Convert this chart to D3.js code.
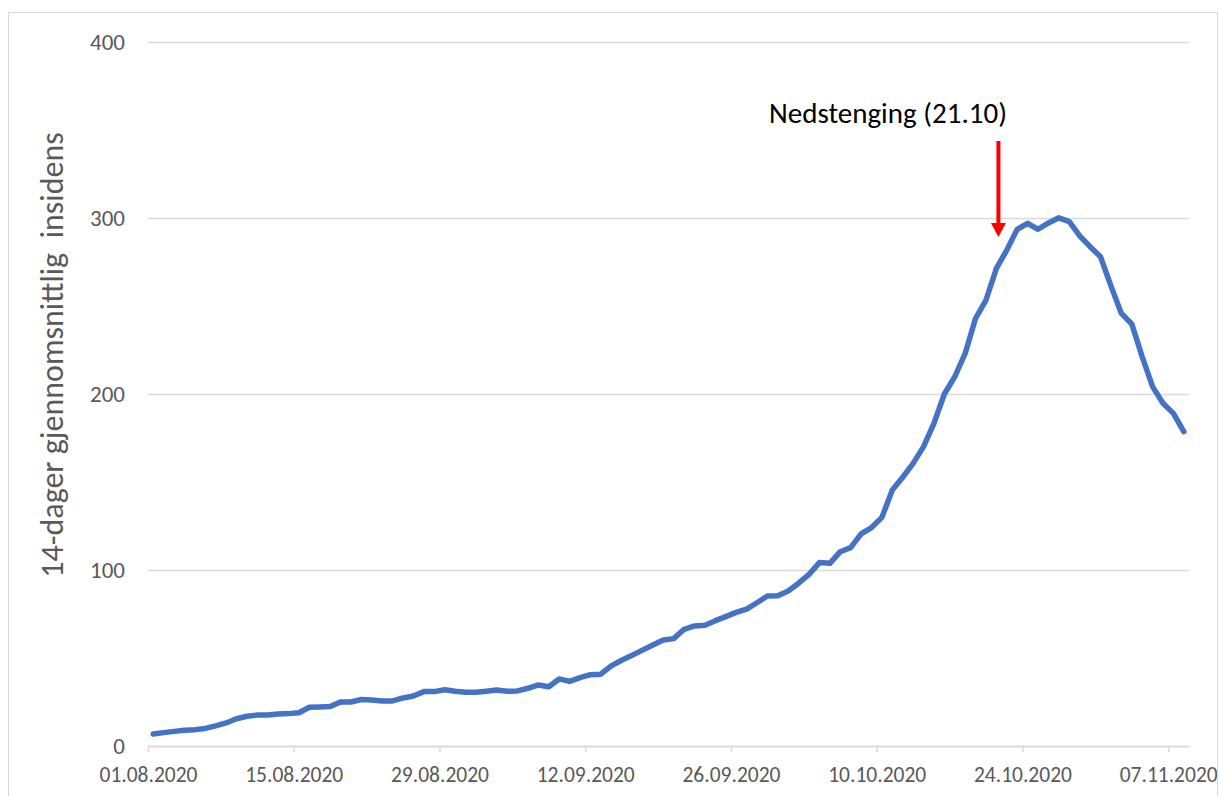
<!DOCTYPE html>
<html>
<head>
<meta charset="utf-8">
<script src="https://cdn.jsdelivr.net/npm/d3@7"></script>
<style>
  body { margin: 0; background: #fff; }
  svg { display: block; }
  text { font-family: Carlito, "Open Sans", sans-serif; }
</style>
</head>
<body>
<svg id="canvas" width="1220" height="796"></svg>
<script>
// 14-day average incidence, one value per day from 01.08.2020
const startDate = "01.08.2020";
const values = [
    6.8, 7.6, 8.3, 8.9, 9.3, 10.0, 11.4, 13.1, 15.5, 16.9,
    17.6, 17.6, 18.2, 18.4, 18.9, 22.0, 22.2, 22.4, 25.0, 25.0,
    26.4, 26.1, 25.6, 25.6, 27.3, 28.4, 30.9, 30.9, 32.0, 31.1,
    30.5, 30.5, 31.1, 31.8, 31.1, 31.3, 32.8, 34.7, 33.7, 38.1,
    36.7, 38.8, 40.5, 40.8, 45.5, 48.7, 51.5, 54.5, 57.4, 60.2,
    61.0, 66.3, 68.2, 68.6, 71.2, 73.5, 75.9, 77.8, 81.4, 85.2,
    85.4, 88.1, 92.5, 97.5, 104.2, 103.8, 110.4, 112.7, 120.5, 124.1,
    129.9, 145.5, 152.7, 160.6, 170.1, 183.3, 200.0, 209.8, 223.1, 243.0,
    253.4, 271.4, 281.8, 293.6, 297.0, 293.6, 297.2, 300.1, 297.9, 289.8,
    283.7, 278.0, 261.4, 245.8, 239.8, 221.2, 204.2, 194.7, 189.0, 178.6
];
const xTickLabels = ["01.08.2020", "15.08.2020", "29.08.2020", "12.09.2020",
    "26.09.2020", "10.10.2020", "24.10.2020", "07.11.2020"];
const yTicks = [0, 100, 200, 300, 400];
const yTitle = "14-dager gjennomsnittlig  insidens";
const noteDate = "21.10.2020";
const noteLabel = "Nedstenging (21.10)";

const parse = d3.timeParse("%d.%m.%Y");
const fmt = d3.timeFormat("%d.%m.%Y");

var svg = d3.select("#canvas");
var plotLeft = 148, plotRight = 1189, plotTop = 42, plotBottom = 746;
var grey = "#595959", gridCol = "#d9d9d9";

var start = parse(startDate);
var data = values.map(function(v, i){
    return {date: d3.timeDay.offset(start, i), value: v};
});

// date axis, each day takes one slot, points sit in the middle of it
var x = d3.scaleTime()
    .domain([start, d3.timeDay.offset(start, values.length)])
    .range([plotLeft, plotRight]);
var mid = function(d){ return x(d3.timeHour.offset(d, 12)); };

var y = d3.scaleLinear().domain([0, 400]).range([plotBottom, plotTop]);

// gridlines + y labels
var yAxis = svg.append("g")
    .attr("transform", "translate(" + plotLeft + ",0)")
    .call(d3.axisLeft(y).tickValues(yTicks).tickSize(-(plotRight - plotLeft)).tickPadding(23));
yAxis.select(".domain").remove();
yAxis.selectAll("line").attr("stroke", gridCol).attr("stroke-width", 1.5);
yAxis.selectAll("text")
    .attr("fill", grey)
    .style("font-size", "23px");

// x axis
var xAxis = svg.append("g")
    .attr("transform", "translate(0," + plotBottom + ")")
    .call(d3.axisBottom(x)
        .tickValues(xTickLabels.map(parse))
        .tickFormat(fmt)
        .tickSizeInner(6)
        .tickSizeOuter(0)
        .tickPadding(15));
xAxis.select(".domain").attr("stroke", gridCol).attr("stroke-width", 1.5);
xAxis.selectAll("line").attr("stroke", gridCol).attr("stroke-width", 1.5);
xAxis.selectAll("text")
    .attr("fill", grey)
    .style("font-size", "21.5px");

// y title
svg.append("text")
    .attr("transform", "translate(63,355) rotate(-90)")
    .attr("text-anchor", "middle")
    .attr("fill", grey)
    .style("font-size", "32px")
    .style("white-space", "pre")
    .text(yTitle);

// the line
var line = d3.line()
    .x(function(d){ return mid(d.date); })
    .y(function(d){ return y(d.value); });

svg.append("path")
    .datum(data)
    .attr("fill", "none")
    .attr("stroke", "#4472c4")
    .attr("stroke-width", 5.5)
    .attr("stroke-linejoin", "round")
    .attr("stroke-linecap", "round")
    .attr("d", line);

// annotation arrow (placed a touch right of the day centre, like the original)
var ax = mid(parse(noteDate)) + 2;
svg.append("line")
    .attr("x1", ax).attr("x2", ax)
    .attr("y1", 141).attr("y2", 224)
    .attr("stroke", "#ff0000")
    .attr("stroke-width", 4);
svg.append("path")
    .attr("d", "M" + (ax - 7.5) + ",223 L" + (ax + 7.5) + ",223 L" + ax + ",237 Z")
    .attr("fill", "#ff0000");
svg.append("text")
    .attr("x", 769)
    .attr("y", 123)
    .attr("fill", "#000")
    .style("font-size", "29px")
    .text(noteLabel);

// chart border
svg.append("rect")
    .attr("x", 8.5).attr("y", 12.5)
    .attr("width", 1209).attr("height", 800)
    .attr("fill", "none")
    .attr("stroke", gridCol)
    .attr("stroke-width", 1);
</script>
</body>
</html>
